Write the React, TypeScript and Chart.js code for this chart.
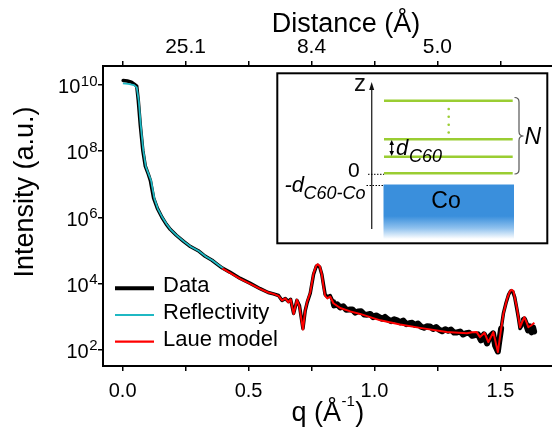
import React, { useEffect, useRef } from "react";
import { Chart, registerables } from "chart.js";

Chart.register(...registerables);

// ---------------- data ----------------
const dataQ = [
  0.002, 0.019, 0.035, 0.046, 0.056, 0.062, 0.070, 0.080, 0.090, 0.102, 0.110, 0.123, 0.138, 0.156, 0.173,
  0.189, 0.213, 0.242, 0.269, 0.300, 0.328, 0.355, 0.376, 0.396, 0.427, 0.467, 0.507, 0.546, 0.578, 0.599,
  0.619, 0.633, 0.646, 0.658, 0.667, 0.679, 0.692, 0.702, 0.716, 0.725, 0.733, 0.745, 0.758, 0.769, 0.775,
  0.783, 0.791, 0.798, 0.804, 0.813, 0.824, 0.837,
  0.840, 0.852, 0.864, 0.876, 0.888, 0.900, 0.912, 0.924, 0.935, 0.947, 0.959, 0.971, 0.983, 0.995, 1.007,
  1.019, 1.031, 1.042, 1.054, 1.066, 1.078, 1.090, 1.102, 1.114, 1.126, 1.138, 1.150, 1.162, 1.173, 1.185,
  1.197, 1.209, 1.221, 1.233, 1.245, 1.257, 1.269, 1.281, 1.293, 1.304, 1.316, 1.328, 1.340, 1.352, 1.364,
  1.376, 1.388, 1.400, 1.411,
  1.423, 1.435, 1.447, 1.459, 1.471, 1.479, 1.490, 1.495, 1.503, 1.512, 1.523, 1.533, 1.541, 1.549, 1.557,
  1.565, 1.572, 1.578, 1.586, 1.594, 1.602, 1.610, 1.618, 1.624, 1.630, 1.634,
];
const dataI = [
  1.37e10, 1.32e10, 1.23e10, 1.07e10, 9.3e9, 3.5e9, 6.2e8, 1.07e8, 3.5e7, 2.0e7, 1.3e7, 3.8e6, 1.86e6, 1.0e6, 6.2e5,
  4.3e5, 2.85e5, 1.86e5, 1.3e5, 9.7e4, 6.6e4, 5.0e4, 3.77e4, 2.9e4, 2.15e4, 1.41e4, 1.0e4, 6.9e3, 5.3e3, 4.8e3,
  4.3e3, 3.05e3, 3.5e3, 2.85e3, 3.3e3, 1.23e3, 3.05e3, 2.15e3, 4.3e2, 1.5e3, 2.65e3, 5.0e3, 1.86e4, 3.3e4, 3.5e4,
  3.05e4, 1.86e4, 8.7e3, 4.6e3, 3.9e3, 4.3e3, 2.65e3,
  2.15e3, 2.31e3, 1.87e3, 2.02e3, 1.6e3, 1.61e3, 1.63e3, 1.3e3, 1.42e3, 1.44e3, 1.15e3, 1.13e3, 1.19e3, 9.5e2, 1.07e3,
  9.5e2, 8.45e2, 9.65e2, 8.05e2, 7.2e2, 8.2e2, 7.6e2, 6.6e2, 7.5e2, 5.85e2, 6.2e2, 6.4e2, 5.5e2, 6.1e2, 4.9e2,
  4.55e2, 5.0e2, 4.98e2, 4.15e2, 4.74e2, 3.95e2, 3.56e2, 4.1e2, 3.7e2, 4.0e2, 3.25e2, 3.27e2, 3.5e2, 2.83e2, 3.12e2,
  3.2e2, 2.6e2, 2.73e2, 2.87e2,
  1.88e2, 2.85e2, 1.52e2, 2.48e2, 3.05e2, 1.32e2, 87, 1.63e2, 4.3e2, 1.23e3, 2.65e3, 4.65e3, 5.9e3, 5.7e3, 3.77e3,
  1.75e3, 8.7e2, 4.3e2, 5.3e2, 8.1e2, 5.7e2, 3.77e2, 5.0e2, 3.3e2, 4.65e2, 3.5e2,
];

const reflQ = [
  0.001, 0.022, 0.045, 0.056, 0.064, 0.072, 0.082, 0.092, 0.104, 0.113, 0.126, 0.140, 0.158, 0.175, 0.191,
  0.215, 0.244, 0.271, 0.302, 0.330, 0.357, 0.378, 0.400,
];
const reflI = [
  1.12e10, 1.08e10, 1.0e10, 8.5e9, 3.4e9, 6.0e8, 1.05e8, 3.4e7, 1.95e7, 1.28e7, 3.7e6, 1.8e6, 9.8e5, 6.1e5, 4.25e5,
  2.8e5, 1.83e5, 1.28e5, 9.5e4, 6.5e4, 4.9e4, 3.7e4, 2.8e4,
];

const laueQ = [
  0.396, 0.467, 0.507, 0.546, 0.578, 0.599, 0.619, 0.633, 0.646, 0.658, 0.667, 0.679, 0.692, 0.702, 0.716,
  0.725, 0.733, 0.745, 0.758, 0.769, 0.775, 0.783, 0.791, 0.798, 0.804, 0.813, 0.824, 0.837, 0.864, 0.904,
  0.943, 1.023, 1.102, 1.181, 1.287, 1.367, 1.388, 1.406, 1.419, 1.437, 1.452, 1.472, 1.490, 1.501, 1.512,
  1.527, 1.538, 1.545, 1.552, 1.565, 1.578, 1.586, 1.595, 1.604, 1.611, 1.622, 1.635,
];
const laueI = [
  2.85e4, 1.37e4, 9.7e3, 6.8e3, 5.3e3, 4.8e3, 4.17e3, 3.05e3, 3.5e3, 2.65e3, 3.3e3, 1.19e3, 3.2e3, 2.0e3, 4.0e2,
  1.5e3, 2.85e3, 5.3e3, 2.0e4, 3.5e4, 3.77e4, 3.3e4, 1.86e4, 7.6e3, 4.17e3, 3.5e3, 4.0e3, 2.5e3, 1.8e3, 1.42e3,
  1.19e3, 7.6e2, 5.7e2, 4.5e2, 3.35e2, 3.1e2, 3.3e2, 3.35e2, 2.36e2, 3.2e2, 1.66e2, 3.35e2, 83, 3.3e2, 1.2e3,
  3.5e3, 5.8e3, 6.4e3, 5.8e3, 1.92e3, 4.7e2, 6.6e2, 9.5e2, 6.6e2, 4.7e2, 5.3e2, 6.4e2,
];

const qTicks = [0, 0.25, 0.5, 0.75, 1.0, 1.25, 1.5];
const qLabelled = [0, 0.5, 1.0, 1.5];
const distTickQ = [0.25, 0.75, 1.25];
const distTickLabels = ["25.1", "8.4", "5.0"];
const yTickExps = [2, 4, 6, 8, 10];
const qMin = -0.078;
const qMax = 1.705;
const iMin = 31.6;
const iMax = 3.77e10;
const noisyRanges = [
  [0.83, 1.5],
  [1.59, 1.7],
];

const FONT = "'Liberation Sans', Arial, Helvetica, sans-serif";

function drawInset(ctx: CanvasRenderingContext2D) {
  ctx.save();
  // frame
  ctx.fillStyle = "#fff";
  ctx.fillRect(277.3, 73.3, 270, 170);
  ctx.strokeStyle = "#000";
  ctx.lineWidth = 2;
  ctx.strokeRect(277.3, 73.3, 270, 170);

  // Co block with fade
  const g = ctx.createLinearGradient(0, 184.5, 0, 239);
  g.addColorStop(0, "#3a8fdc");
  g.addColorStop(0.58, "#3a8fdc");
  g.addColorStop(0.8, "#8fc1ee");
  g.addColorStop(1, "#ffffff");
  ctx.fillStyle = g;
  ctx.fillRect(383.5, 184.5, 130.5, 55);
  ctx.fillStyle = "#000";
  ctx.font = `23px ${FONT}`;
  ctx.textAlign = "center";
  ctx.textBaseline = "alphabetic";
  ctx.fillText("Co", 446, 208);

  // z axis
  ctx.strokeStyle = "#333";
  ctx.lineWidth = 1.4;
  ctx.beginPath();
  ctx.moveTo(371.7, 229);
  ctx.lineTo(371.7, 88);
  ctx.stroke();
  ctx.fillStyle = "#111";
  ctx.beginPath();
  ctx.moveTo(371.7, 82);
  ctx.lineTo(369.2, 90);
  ctx.lineTo(374.2, 90);
  ctx.closePath();
  ctx.fill();
  ctx.font = `24px ${FONT}`;
  ctx.textAlign = "left";
  ctx.fillText("z", 354, 91);

  // green layers
  ctx.strokeStyle = "#9acd32";
  ctx.lineWidth = 2.4;
  [100.7, 139.3, 156.7, 173.3].forEach((yy) => {
    ctx.beginPath();
    ctx.moveTo(384, yy);
    ctx.lineTo(512.7, yy);
    ctx.stroke();
  });
  ctx.fillStyle = "#9acd32";
  [109, 116.7, 124.7, 132.5].forEach((yy) => {
    ctx.beginPath();
    ctx.arc(448.7, yy, 1.3, 0, Math.PI * 2);
    ctx.fill();
  });

  // brace
  ctx.strokeStyle = "#555";
  ctx.lineWidth = 1.2;
  ctx.beginPath();
  ctx.moveTo(514.5, 97.5);
  ctx.quadraticCurveTo(519, 97.5, 519, 102);
  ctx.lineTo(519, 131.5);
  ctx.quadraticCurveTo(519, 136, 523.5, 136);
  ctx.quadraticCurveTo(519, 136, 519, 140.5);
  ctx.lineTo(519, 169.5);
  ctx.quadraticCurveTo(519, 174, 514.5, 174);
  ctx.stroke();
  ctx.fillStyle = "#000";
  ctx.font = `italic 23px ${FONT}`;
  ctx.textAlign = "left";
  ctx.fillText("N", 524.5, 143.5);

  // double arrow for d_C60
  ctx.strokeStyle = "#000";
  ctx.lineWidth = 1.2;
  ctx.beginPath();
  ctx.moveTo(391.7, 143);
  ctx.lineTo(391.7, 153);
  ctx.stroke();
  ctx.beginPath();
  ctx.moveTo(391.7, 140);
  ctx.lineTo(389.4, 145);
  ctx.lineTo(394, 145);
  ctx.closePath();
  ctx.fill();
  ctx.beginPath();
  ctx.moveTo(391.7, 156);
  ctx.lineTo(389.4, 151);
  ctx.lineTo(394, 151);
  ctx.closePath();
  ctx.fill();

  ctx.font = `italic 22px ${FONT}`;
  ctx.fillText("d", 396, 155);
  ctx.font = `italic 18px ${FONT}`;
  ctx.fillText("C60", 409, 162);

  // zero and offset labels
  ctx.font = `21px ${FONT}`;
  ctx.textAlign = "left";
  ctx.fillText("0", 348, 177);
  ctx.font = `italic 22px ${FONT}`;
  ctx.fillText("-d", 284.5, 191.5);
  ctx.font = `italic 18px ${FONT}`;
  ctx.fillText("C60-Co", 303.5, 198.5);

  // dotted guides
  ctx.strokeStyle = "#000";
  ctx.lineWidth = 1;
  ctx.setLineDash([1.5, 1.5]);
  ctx.beginPath();
  ctx.moveTo(368, 174.3);
  ctx.lineTo(384, 174.3);
  ctx.moveTo(366.5, 185.5);
  ctx.lineTo(384, 185.5);
  ctx.stroke();
  ctx.setLineDash([]);
  ctx.restore();
}

const overlayPlugin = {
  id: "overlay",
  afterDraw(chart: any) {
    const ctx: CanvasRenderingContext2D = chart.ctx;
    const ca = chart.chartArea;
    const ys = chart.scales.y;
    ctx.save();
    ctx.fillStyle = "#000";
    ctx.textBaseline = "alphabetic";

    // y tick labels 10^n
    yTickExps.forEach((e) => {
      const py = ys.getPixelForValue(Math.pow(10, e));
      const es = String(e);
      ctx.font = `15px ${FONT}`;
      const ew = ctx.measureText(es).width;
      const right = ca.left - 5.5;
      ctx.textAlign = "left";
      ctx.fillText(es, right - ew, py + 0.5);
      ctx.font = `20px ${FONT}`;
      ctx.textAlign = "right";
      ctx.fillText("10", right - ew - 0.5, py + 8.3);
    });

    // titles
    ctx.font = `27px ${FONT}`;
    ctx.textAlign = "center";
    ctx.fillText("Distance (Å)", 346, 32);

    ctx.save();
    ctx.translate(33, 192);
    ctx.rotate(-Math.PI / 2);
    ctx.textAlign = "center";
    ctx.fillText("Intensity (a.u.)", 0, 0);
    ctx.restore();

    ctx.textAlign = "left";
    ctx.font = `27px ${FONT}`;
    const part1 = "q (Å";
    ctx.fillText(part1, 291.5, 421);
    const w1 = ctx.measureText(part1).width;
    ctx.font = `15px ${FONT}`;
    ctx.fillText("-1", 291.5 + w1 + 0.5, 406);
    const w2 = ctx.measureText("-1").width;
    ctx.font = `27px ${FONT}`;
    ctx.fillText(")", 291.5 + w1 + w2 + 1, 421);

    // legend
    const ds = chart.data.datasets;
    const legY = [288.3, 315, 341.7];
    ds.forEach((d: any, i: number) => {
      const yy = legY[i];
      ctx.strokeStyle = d.borderColor;
      ctx.lineWidth = i === 0 ? 4 : 2.2;
      ctx.beginPath();
      ctx.moveTo(ca.left + 12, yy);
      ctx.lineTo(ca.left + 51, yy);
      ctx.stroke();
      ctx.fillStyle = "#000";
      ctx.font = `22px ${FONT}`;
      ctx.textAlign = "left";
      ctx.fillText(d.label, ca.left + 60, yy + 4);
    });
    ctx.restore();

    drawInset(ctx);
  },
};

export default function App() {
  const ref = useRef<HTMLCanvasElement | null>(null);
  useEffect(() => {
    if (!ref.current) return;
    const axisCommon = {
      grid: { drawOnChartArea: false, drawTicks: true, tickLength: 5, color: "#000", lineWidth: 1.5 },
      border: { display: true, color: "#000", width: 2 },
    };
    const isNoisy = (q: number) => noisyRanges.some(([a, b]) => q >= a && q < b);
    const chart = new Chart(ref.current, {
      type: "line",
      data: {
        datasets: [
          {
            label: "Data",
            data: dataQ.map((q, i) => ({ x: q, y: dataI[i] })),
            borderColor: "#000000",
            borderWidth: 3.5,
            pointRadius: 0,
            tension: 0,
            borderJoinStyle: "round",
            borderCapStyle: "round",
            segment: {
              borderWidth: (c: any) => (isNoisy(c.p0.parsed.x) ? 6 : 3.5),
            },
            order: 3,
          },
          {
            label: "Reflectivity",
            data: reflQ.map((q, i) => ({ x: q, y: reflI[i] })),
            borderColor: "#1fb8c3",
            borderWidth: 1.8,
            pointRadius: 0,
            tension: 0,
            order: 2,
          },
          {
            label: "Laue model",
            data: laueQ.map((q, i) => ({ x: q, y: laueI[i] })),
            borderColor: "#ff0000",
            borderWidth: 2,
            pointRadius: 0,
            tension: 0,
            borderJoinStyle: "round",
            order: 1,
          },
        ],
      },
      options: {
        responsive: false,
        animation: false,
        layout: { padding: 0 },
        plugins: { legend: { display: false }, tooltip: { enabled: false }, title: { display: false } },
        scales: {
          x: {
            type: "linear",
            position: "bottom",
            min: qMin,
            max: qMax,
            afterBuildTicks: (s: any) => {
              s.ticks = qTicks.map((v) => ({ value: v }));
            },
            afterFit: (s: any) => {
              s.height = 63;
            },
            ticks: {
              autoSkip: false,
              maxRotation: 0,
              padding: 8,
              color: "#000",
              font: { family: FONT, size: 20 },
              callback: (v: any) => (qLabelled.includes(v) ? Number(v).toFixed(1) : ""),
            },
            ...axisCommon,
          },
          x2: {
            type: "linear",
            position: "top",
            min: qMin,
            max: qMax,
            afterBuildTicks: (s: any) => {
              s.ticks = qTicks.map((v) => ({ value: v }));
            },
            afterFit: (s: any) => {
              s.height = 66;
            },
            ticks: {
              autoSkip: false,
              maxRotation: 0,
              padding: 1,
              color: "#000",
              font: { family: FONT, size: 21 },
              callback: (v: any) => {
                const k = distTickQ.indexOf(v);
                return k >= 0 ? distTickLabels[k] : "";
              },
            },
            ...axisCommon,
          },
          y: {
            type: "logarithmic",
            position: "left",
            min: iMin,
            max: iMax,
            afterBuildTicks: (s: any) => {
              s.ticks = yTickExps.map((e) => ({ value: Math.pow(10, e) }));
            },
            afterFit: (s: any) => {
              s.width = 103;
            },
            ticks: { callback: () => "", font: { family: FONT, size: 20 } },
            ...axisCommon,
          },
        },
      } as any,
      plugins: [overlayPlugin],
    });
    return () => chart.destroy();
  }, []);
  return (
    <div style={{ position: "fixed", left: 0, top: 0, width: 552, height: 429, background: "#fff" }}>
      <canvas ref={ref} width={552} height={429} style={{ display: "block" }} />
    </div>
  );
}
